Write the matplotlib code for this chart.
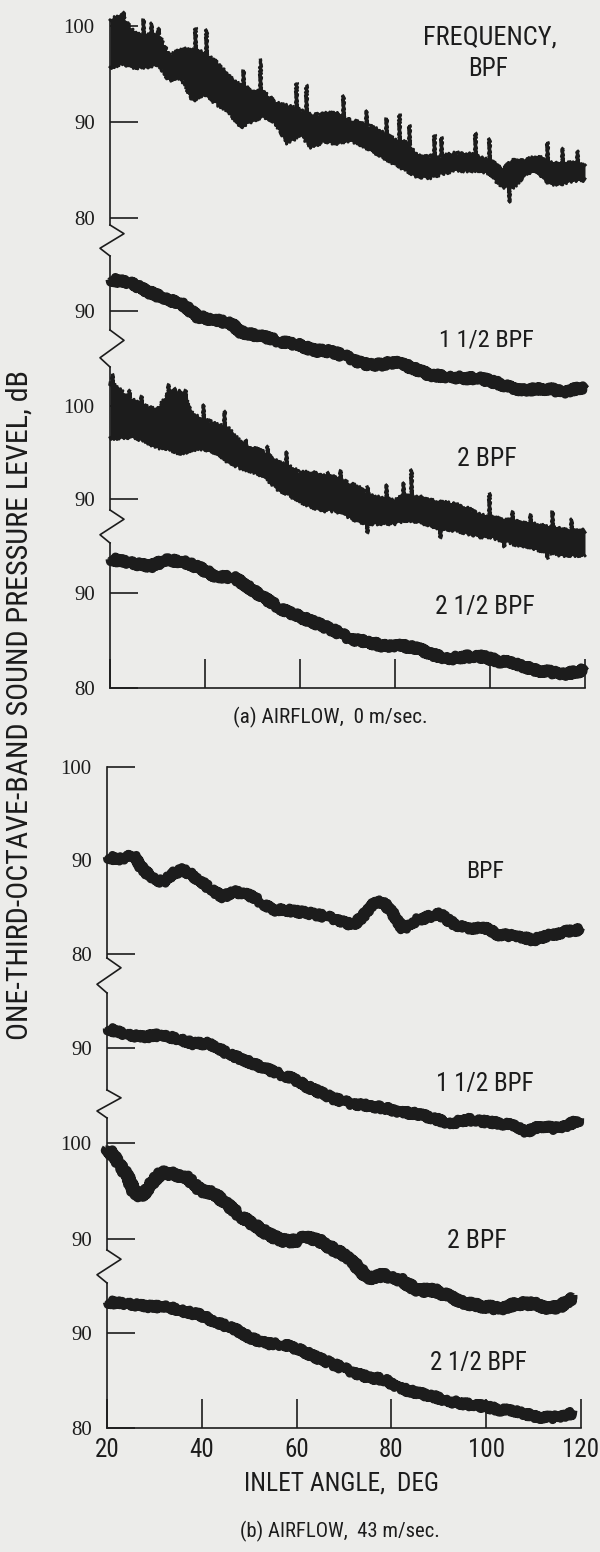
import numpy as np
import matplotlib.pyplot as plt
from matplotlib.lines import Line2D

plt.rcParams['font.family'] = ['Roboto Condensed', 'Liberation Sans Narrow', 'DejaVu Sans']
plt.rcParams['font.stretch'] = 'condensed'

W, H = 600, 1552
INK = '#1c1c1c'
PAPER = '#ececea'

# ---------------- (a) airflow 0 m/sec ----------------
# BPF: pen-trace envelope every 2.5 deg, plus the tall spikes
grid_a = np.arange(20, 120.1, 2.5)
bpf_a_hi = [100.6, 101.0, 99.2, 98.9, 99.2, 96.8, 97.5, 97.5, 97.1, 96.1, 94.7,
            93.7, 93.3, 93.0, 91.9, 91.6, 91.2, 90.6, 90.9, 90.9, 90.2, 89.9,
            89.5, 88.8, 88.1, 87.8, 86.4, 86.4, 86.4, 86.7, 86.7, 86.4, 86.0,
            85.0, 86.0, 86.0, 86.4, 85.7, 85.7, 85.7, 85.4]
bpf_a_lo = [95.7, 96.1, 95.7, 95.7, 96.1, 94.4, 94.7, 92.3, 93.0, 91.9, 91.2,
            89.5, 90.2, 90.6, 89.9, 87.8, 88.8, 87.4, 88.1, 87.8, 88.1, 87.8,
            87.1, 86.4, 85.7, 85.0, 84.3, 84.3, 84.7, 85.0, 85.0, 85.0, 84.7,
            83.3, 83.3, 84.7, 85.0, 83.6, 83.6, 84.0, 84.0]
bpf_a_spike_deg = [22.8, 27.0, 28.7, 30.1, 37.8, 40.3, 48.0, 51.5, 59.2, 61.3,
                   69.0, 73.8, 78.0, 80.8, 82.9, 88.2, 89.6, 96.9, 99.7, 103.9,
                   112.0, 115.1, 118.3]
bpf_a_spike_db = [101.5, 100.8, 100.4, 99.9, 99.9, 99.7, 95.5, 96.6, 94.2, 93.9,
                  92.8, 91.2, 90.5, 90.9, 89.8, 88.8, 88.5, 89.0, 88.3, 81.7,
                  88.0, 87.4, 87.1]

# 1 1/2 BPF: centre of the trace
bpf15_a_deg = [20, 24.5, 28, 31.5, 35, 38.5, 42, 45.5, 47.6, 52.5, 56, 59.5, 63,
               66.5, 70, 73.5, 77, 80.5, 84, 87.5, 91, 94.5, 98, 101.5, 105,
               108.5, 112, 115.5, 120]
bpf15_a_db = [93.3, 92.9, 92.0, 91.3, 90.8, 89.4, 89.1, 88.7, 87.8, 87.3, 86.8,
              86.5, 85.9, 85.8, 85.2, 84.5, 84.4, 84.7, 84.0, 83.3, 83.2, 83.0,
              83.0, 82.5, 81.9, 81.8, 81.9, 81.6, 82.1]

# 2 BPF: envelope every 2.5 deg, plus spikes
bpf2_a_hi = [102.5, 101.5, 100.5, 99.9, 99.5, 101.5, 101.5, 99.0, 98.5, 98.0,
             97.5, 96.0, 95.5, 95.0, 94.0, 93.5, 92.8, 92.8, 92.5, 92.3, 91.7,
             91.2, 90.3, 90.0, 89.8, 90.5, 90.2, 89.8, 89.6, 89.4, 89.0, 88.4,
             88.0, 87.8, 87.6, 87.4, 87.2, 86.9, 86.8, 86.5, 86.6]
bpf2_a_lo = [96.6, 96.6, 96.7, 96.2, 95.6, 95.4, 94.9, 95.4, 95.4, 95.0, 94.0,
             93.4, 93.0, 92.5, 91.2, 90.5, 89.8, 89.2, 88.8, 88.8, 88.2, 87.6,
             87.4, 87.4, 87.4, 87.8, 87.6, 87.2, 86.8, 86.7, 86.4, 86.0, 86.0,
             85.6, 85.2, 85.0, 84.6, 84.3, 84.0, 84.0, 84.0]
bpf2_a_spike_deg = [20.5, 24.0, 26.5, 32.2, 33.5, 35.7, 39.5, 44.0, 48.5, 53.0,
                    57.0, 65.7, 68.5, 74.0, 74.2, 78.0, 81.6, 83.3, 89.5, 99.7,
                    103.0, 104.7, 108.4, 112.0, 113.0, 117.0]
bpf2_a_spike_db = [103.5, 101.8, 101.2, 102.5, 102.0, 101.8, 100.2, 99.6, 96.5,
                   95.8, 95.2, 93.0, 93.2, 91.5, 86.3, 91.6, 91.8, 93.2, 85.8,
                   90.8, 84.8, 88.8, 88.5, 83.6, 88.8, 88.0]

# 2 1/2 BPF: centre of the trace
bpf25_a_deg = [20, 25, 28.5, 32, 35.5, 39, 42.5, 46, 49.5, 53, 56.5, 60, 63.5,
               67, 70.5, 74, 77.5, 81, 84.5, 88, 91.5, 95, 98.5, 102, 105.5,
               109, 112.5, 116, 120]
bpf25_a_db = [93.6, 93.1, 92.8, 93.5, 93.3, 92.6, 91.7, 91.7, 90.5, 89.3, 88.2,
              87.5, 86.8, 86.1, 85.2, 84.9, 84.4, 84.5, 84.2, 83.5, 83.1, 83.3,
              83.3, 82.8, 82.6, 81.9, 81.7, 81.5, 81.9]

# ---------------- (b) airflow 43 m/sec ----------------
bpf_b_deg = [20, 22.7, 25.5, 27.6, 29.7, 31.8, 33.9, 36, 38.1, 40.2, 42.3, 44.5,
             46.6, 48.7, 50.8, 52.9, 55, 57.8, 60.6, 63.4, 66.2, 69.1, 71.9, 74,
             76.1, 78.2, 80.3, 82.4, 85.2, 88, 90.1, 92.9, 95.8, 99.3, 102.8,
             106.3, 109.8, 113.3, 116.8, 120]
bpf_b_db = [90.4, 90.1, 90.6, 89.0, 88.1, 87.7, 88.6, 89.0, 88.4, 87.6, 86.8,
            86.1, 86.7, 86.5, 86.1, 85.4, 84.7, 84.7, 84.5, 84.3, 84.0, 83.6,
            83.1, 84.0, 85.4, 85.6, 84.3, 82.7, 83.6, 84.0, 84.3, 83.3, 82.7,
            82.9, 82.0, 82.0, 81.5, 82.0, 82.4, 82.6]

bpf15_b_deg = [20, 24.2, 27.7, 31.2, 34.7, 38.2, 41.7, 45.3, 48.8, 52.3, 55.8,
               59.3, 62.1, 67.9, 71.4, 74.9, 78.4, 81.9, 85.4, 89, 92.5, 96,
               99.5, 103, 106.5, 108.6, 111.4, 114.2, 117, 119.9]
bpf15_b_db = [92.1, 91.4, 91.2, 91.4, 91.05, 90.5, 90.5, 89.5, 88.8, 88.1, 87.4,
              86.8, 86.0, 84.7, 84.2, 84.0, 83.7, 83.3, 83.1, 82.6, 82.1, 82.5,
              82.3, 82.1, 81.8, 81.2, 81.8, 81.6, 81.9, 82.5]

bpf2_b_deg = [20, 21.5, 22.9, 24.4, 25.8, 27.2, 29.3, 31.4, 32.8, 34.9, 37, 39.8,
              42.6, 45.4, 48.2, 51, 53.8, 56.7, 59.5, 62.3, 65.1, 67.9, 70.7,
              73.5, 74.9, 78.4, 81.9, 85.4, 89, 92.5, 96, 99.5, 103, 106.5, 110,
              113.5, 115.6, 118.5]
bpf2_b_db = [99.5, 98.6, 97.6, 96.5, 94.8, 94.4, 95.8, 96.9, 96.9, 96.7, 96.4,
             95.1, 94.8, 93.6, 92.4, 91.5, 90.6, 89.9, 89.8, 90.3, 89.8, 88.9,
             88.2, 86.8, 85.9, 86.3, 85.8, 84.7, 84.7, 84.0, 83.3, 83.0, 82.8,
             83.3, 83.3, 82.8, 83.0, 84.0]

bpf25_b_deg = [20, 25.8, 29.3, 32.8, 36.3, 39.8, 43.3, 46.8, 50.3, 53.8, 57.4,
               60.9, 64.4, 67.9, 71.4, 74.9, 78.4, 81.9, 85.4, 89, 92.5, 96,
               99.5, 103, 106.5, 110, 113.5, 117, 118.5]
bpf25_b_db = [93.3, 93.0, 92.8, 92.8, 92.3, 91.9, 91.1, 90.5, 89.5, 88.9, 88.8,
              88.2, 87.4, 86.7, 86.0, 85.4, 85.1, 84.2, 83.7, 83.3, 82.8, 82.5,
              82.3, 81.9, 81.8, 81.2, 81.1, 81.4, 81.6]

angle_ticks = [20, 40, 60, 80, 100, 120]

fig = plt.figure(figsize=(W / 100, H / 100), dpi=100)
fig.patch.set_facecolor(PAPER)
renderer = fig.canvas.get_renderer()


def px_axes(left, right, top, bottom, ref_db, ref_px, px_per_db, yticks):
    """Axes placed by pixel edges; y range set so ref_db sits at ref_px."""
    ax = fig.add_axes([left / W, 1 - bottom / H, (right - left) / W, (bottom - top) / H])
    ax.set_xlim(20, 120)
    ax.set_ylim(ref_db - (bottom - ref_px) / px_per_db,
                ref_db + (ref_px - top) / px_per_db)
    ax.patch.set_alpha(0)
    for s in ('top', 'right', 'bottom'):
        ax.spines[s].set_visible(False)
    ax.spines['left'].set_linewidth(1.2)
    ax.spines['left'].set_color(INK)
    ax.set_yticks(yticks)
    ax.tick_params(axis='y', direction='in', length=20, width=1.2, pad=11,
                   labelsize=15, colors=INK)
    for t in ax.get_yticklabels():
        t.set_family('Liberation Serif')
    ax.tick_params(axis='x', bottom=False, labelbottom=False)
    return ax


def bottom_axis(ax, labels):
    ax.spines['bottom'].set_visible(True)
    ax.spines['bottom'].set_linewidth(1.2)
    ax.spines['bottom'].set_color(INK)
    ax.set_xticks(angle_ticks)
    ax.tick_params(axis='x', bottom=True, direction='in', length=21, width=1.2,
                   labelbottom=labels, labelsize=18, pad=7, colors=INK)


def band(ax, deg, hi, lo, spike_deg, spike_db):
    ax.fill_between(deg, lo, hi, color=INK, lw=0, clip_on=False)
    for edge in (hi, lo):
        ln, = ax.plot(deg, edge, color=INK, lw=2.0, clip_on=False)
        ln.set_sketch_params(scale=2.0, length=2.5, randomness=2.0)
    top = np.interp(spike_deg, deg, hi)
    bot = np.interp(spike_deg, deg, lo)
    base = np.where(np.asarray(spike_db) > top, top, bot)
    v = ax.vlines(spike_deg, base, spike_db, color=INK, lw=2.4, clip_on=False)
    v.set_sketch_params(scale=1.0, length=2.0, randomness=2.0)


def trace(ax, deg, db, lw):
    ln, = ax.plot(deg, db, color=INK, lw=lw, solid_capstyle='butt',
                  solid_joinstyle='round', clip_on=False)
    ln.set_sketch_params(scale=2.8, length=2.5, randomness=2.0)


def zigzag(x0, y0, y1):
    dy = y1 - y0
    xs = [x0, x0 + 14, x0 - 10, x0]
    ys = [y0, y0 + 0.28 * dy, y0 + 0.75 * dy, y1]
    fig.add_artist(Line2D([x / W for x in xs], [1 - y / H for y in ys],
                          transform=fig.transFigure, color=INK, lw=1.2))


def label(x, y, s, span, rotation=0):
    """Centred text whose long side is scaled to `span` pixels."""
    t = fig.text(x / W, 1 - y / H, s, ha='center', va='center', fontsize=16,
                 color=INK, rotation=rotation)
    bb = t.get_window_extent(renderer)
    size = bb.height if rotation else bb.width
    t.set_fontsize(16 * span / size)
    return t


# panel (a)
xa0, xa1 = 110, 585
a1 = px_axes(xa0, xa1, 20, 225, 100, 25.7, 9.63, [80, 90, 100])
band(a1, grid_a, bpf_a_hi, bpf_a_lo, bpf_a_spike_deg, bpf_a_spike_db)
zigzag(xa0, 225, 256)
a2 = px_axes(xa0, xa1, 256, 330, 90, 311, 9.6, [90])
trace(a2, bpf15_a_deg, bpf15_a_db, 6.5)
zigzag(xa0, 330, 367)
a3 = px_axes(xa0, xa1, 367, 510, 100, 406, 9.3, [90, 100])
band(a3, grid_a, bpf2_a_hi, bpf2_a_lo, bpf2_a_spike_deg, bpf2_a_spike_db)
zigzag(xa0, 510, 543)
a4 = px_axes(xa0, xa1, 543, 688, 80, 688, 9.5, [80, 90])
trace(a4, bpf25_a_deg, bpf25_a_db, 6.5)
bottom_axis(a4, False)

label(490, 38, 'FREQUENCY,', 134)
label(488, 69, 'BPF', 40)
label(486, 340, '1 1/2 BPF', 95)
label(487, 459, '2 BPF', 60)
label(485, 607, '2 1/2 BPF', 100)
label(330, 717, '(a) AIRFLOW,  0 m/sec.', 196)

# panel (b)
xb0, xb1 = 107, 581
b1 = px_axes(xb0, xb1, 767, 958, 100, 767, 9.35, [80, 90, 100])
b1.yaxis.get_major_ticks()[1].tick1line.set_visible(False)
trace(b1, bpf_b_deg, bpf_b_db, 6.0)
zigzag(xb0, 958, 993)
b2 = px_axes(xb0, xb1, 993, 1090, 90, 1048.3, 9.5, [90])
trace(b2, bpf15_b_deg, bpf15_b_db, 6.0)
zigzag(xb0, 1090, 1118)
b3 = px_axes(xb0, xb1, 1118, 1250, 100, 1143.3, 9.6, [90, 100])
trace(b3, bpf2_b_deg, bpf2_b_db, 7.0)
zigzag(xb0, 1250, 1283)
b4 = px_axes(xb0, xb1, 1283, 1428, 80, 1428.3, 9.5, [80, 90])
trace(b4, bpf25_b_deg, bpf25_b_db, 6.0)
bottom_axis(b4, True)

label(485, 871, 'BPF', 38)
label(485, 1084, '1 1/2 BPF', 98)
label(477, 1241, '2 BPF', 60)
label(478, 1363, '2 1/2 BPF', 97)
label(341, 1484, 'INLET ANGLE,  DEG', 195)
label(340, 1531, '(b) AIRFLOW,  43 m/sec.', 200)

label(20, 705, 'ONE-THIRD-OCTAVE-BAND SOUND PRESSURE LEVEL, dB', 670, rotation=90)

fig.savefig('out.png', dpi=100, facecolor=PAPER)
